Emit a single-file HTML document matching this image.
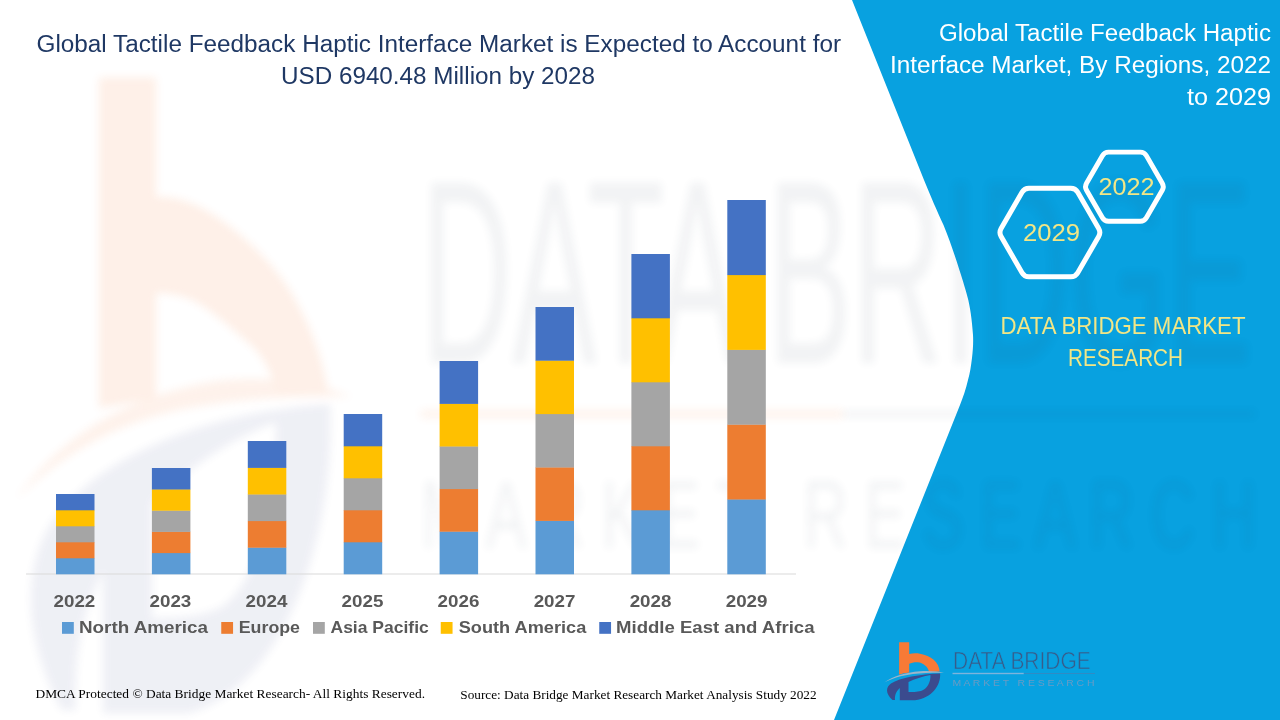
<!DOCTYPE html>
<html><head><meta charset="utf-8"><title>Global Tactile Feedback Haptic Interface Market</title>
<style>html,body{margin:0;padding:0;background:#fff;}body{width:1280px;height:720px;overflow:hidden;font-family:"Liberation Sans",sans-serif;}svg{display:block}</style>
</head><body>
<svg width="1280" height="720" viewBox="0 0 1280 720">
<defs>
<filter id="blur6" x="-10%" y="-10%" width="120%" height="120%"><feGaussianBlur stdDeviation="5"/></filter>
<filter id="blur4" x="-5%" y="-20%" width="110%" height="140%"><feGaussianBlur stdDeviation="4"/></filter>
<clipPath id="pc"><path d="M852,0 L924,180 C931,197 937,211 943.5,225 C950,241 955,256 959.4,270 C963,281 966,291 967.5,297 C970,306 972,320 973,335 C973.4,342 973,350 972,358 C971,366 970,373 968,380 C966,389 963,397 960,405 L950,430 L834,720 L1280,720 L1280,0 Z"/></clipPath>
</defs>
<rect width="1280" height="720" fill="#FFFFFF"/>
<path d="M852,0 L924,180 C931,197 937,211 943.5,225 C950,241 955,256 959.4,270 C963,281 966,291 967.5,297 C970,306 972,320 973,335 C973.4,342 973,350 972,358 C971,366 970,373 968,380 C966,389 963,397 960,405 L950,430 L834,720 L1280,720 L1280,0 Z" fill="#08A1E0"/>
<g opacity="0.115" filter="url(#blur4)">
<path d="M99,77.5 L156,77.5 L156,197 C175,196 200,202 233,229 C262,252 283,278 291.5,293 C310,325 322,355 328,392 L277,394 C270,365 258,350 245,340 C225,322 205,306 192,300 C180,295 168,293 156,293 L156,398 L99,408 Z" fill="#F77A36"/>
<g transform="translate(99,77.5) scale(5.64,10.5) translate(-899.1,-642.3)">
<path d="M884.3,682.5 C893,676 905,672.5 920,671.2 C930,670.6 938,671.5 944,672.7 C932,672.6 922,673 913,674 C901,675.5 892,678.5 884.3,682.5 Z" fill="#F77A36" opacity="0.85"/>
</g>
<g transform="translate(99,404) scale(5.64,11.5) translate(-899.1,-673.4)">
<path d="M892.5,700 C885,693 886,687 891,683.5 C900,677.5 920,674 940.1,673.4 C941,685 932,698 915,700.3 L899.8,700.3 L899.8,688 C896.5,691 894.5,695 895,700 Z M908.5,682 C915,679 922,676.5 930.4,675 C931,682 927,689 921,691 C917,692 912,692 908.5,692 Z" fill="#3B4B8E" fill-rule="evenodd" opacity="0.72"/>
</g>
<rect x="421" y="410" width="422" height="8" fill="#F77A36" opacity="0.8"/>
</g>
<g opacity="0.06" filter="url(#blur4)">
<text x="421" y="363" font-family="Liberation Sans" font-size="262" font-weight="normal" fill="#2A3A55" textLength="831" lengthAdjust="spacingAndGlyphs" xml:space="preserve" >DATA BRIDGE</text>
<rect x="843" y="411" width="412" height="6" fill="#2A3A55"/>
<text x="421" y="548" font-family="Liberation Sans" font-size="97" font-weight="normal" fill="#2A3A55" textLength="835" lengthAdjust="spacingAndGlyphs" xml:space="preserve" >M A R K E T   R E S E A R C H</text>
</g>
<rect x="26" y="573.5" width="770" height="1" fill="#D9D9D9"/>
<rect x="56.00" y="558.00" width="38.5" height="16.30" fill="#5B9BD5"/>
<rect x="56.00" y="542.00" width="38.5" height="16.30" fill="#ED7D31"/>
<rect x="56.00" y="526.00" width="38.5" height="16.30" fill="#A5A5A5"/>
<rect x="56.00" y="510.00" width="38.5" height="16.30" fill="#FFC000"/>
<rect x="56.00" y="494.00" width="38.5" height="16.30" fill="#4472C4"/>
<text x="53.50000000000001" y="607.2" font-family="Liberation Sans" font-size="16.7" font-weight="bold" fill="#595959" textLength="41.8" lengthAdjust="spacingAndGlyphs" xml:space="preserve" >2022</text>
<rect x="151.90" y="552.80" width="38.5" height="21.50" fill="#5B9BD5"/>
<rect x="151.90" y="531.60" width="38.5" height="21.50" fill="#ED7D31"/>
<rect x="151.90" y="510.40" width="38.5" height="21.50" fill="#A5A5A5"/>
<rect x="151.90" y="489.20" width="38.5" height="21.50" fill="#FFC000"/>
<rect x="151.90" y="468.00" width="38.5" height="21.50" fill="#4472C4"/>
<text x="149.53" y="607.2" font-family="Liberation Sans" font-size="16.7" font-weight="bold" fill="#595959" textLength="41.8" lengthAdjust="spacingAndGlyphs" xml:space="preserve" >2023</text>
<rect x="247.80" y="547.40" width="38.5" height="26.90" fill="#5B9BD5"/>
<rect x="247.80" y="520.80" width="38.5" height="26.90" fill="#ED7D31"/>
<rect x="247.80" y="494.20" width="38.5" height="26.90" fill="#A5A5A5"/>
<rect x="247.80" y="467.60" width="38.5" height="26.90" fill="#FFC000"/>
<rect x="247.80" y="441.00" width="38.5" height="26.90" fill="#4472C4"/>
<text x="245.56000000000003" y="607.2" font-family="Liberation Sans" font-size="16.7" font-weight="bold" fill="#595959" textLength="41.8" lengthAdjust="spacingAndGlyphs" xml:space="preserve" >2024</text>
<rect x="343.70" y="542.00" width="38.5" height="32.30" fill="#5B9BD5"/>
<rect x="343.70" y="510.00" width="38.5" height="32.30" fill="#ED7D31"/>
<rect x="343.70" y="478.00" width="38.5" height="32.30" fill="#A5A5A5"/>
<rect x="343.70" y="446.00" width="38.5" height="32.30" fill="#FFC000"/>
<rect x="343.70" y="414.00" width="38.5" height="32.30" fill="#4472C4"/>
<text x="341.59000000000003" y="607.2" font-family="Liberation Sans" font-size="16.7" font-weight="bold" fill="#595959" textLength="41.8" lengthAdjust="spacingAndGlyphs" xml:space="preserve" >2025</text>
<rect x="439.60" y="531.40" width="38.5" height="42.90" fill="#5B9BD5"/>
<rect x="439.60" y="488.80" width="38.5" height="42.90" fill="#ED7D31"/>
<rect x="439.60" y="446.20" width="38.5" height="42.90" fill="#A5A5A5"/>
<rect x="439.60" y="403.60" width="38.5" height="42.90" fill="#FFC000"/>
<rect x="439.60" y="361.00" width="38.5" height="42.90" fill="#4472C4"/>
<text x="437.62" y="607.2" font-family="Liberation Sans" font-size="16.7" font-weight="bold" fill="#595959" textLength="41.8" lengthAdjust="spacingAndGlyphs" xml:space="preserve" >2026</text>
<rect x="535.50" y="520.60" width="38.5" height="53.70" fill="#5B9BD5"/>
<rect x="535.50" y="467.20" width="38.5" height="53.70" fill="#ED7D31"/>
<rect x="535.50" y="413.80" width="38.5" height="53.70" fill="#A5A5A5"/>
<rect x="535.50" y="360.40" width="38.5" height="53.70" fill="#FFC000"/>
<rect x="535.50" y="307.00" width="38.5" height="53.70" fill="#4472C4"/>
<text x="533.65" y="607.2" font-family="Liberation Sans" font-size="16.7" font-weight="bold" fill="#595959" textLength="41.8" lengthAdjust="spacingAndGlyphs" xml:space="preserve" >2027</text>
<rect x="631.40" y="510.00" width="38.5" height="64.30" fill="#5B9BD5"/>
<rect x="631.40" y="446.00" width="38.5" height="64.30" fill="#ED7D31"/>
<rect x="631.40" y="382.00" width="38.5" height="64.30" fill="#A5A5A5"/>
<rect x="631.40" y="318.00" width="38.5" height="64.30" fill="#FFC000"/>
<rect x="631.40" y="254.00" width="38.5" height="64.30" fill="#4472C4"/>
<text x="629.6800000000001" y="607.2" font-family="Liberation Sans" font-size="16.7" font-weight="bold" fill="#595959" textLength="41.8" lengthAdjust="spacingAndGlyphs" xml:space="preserve" >2028</text>
<rect x="727.30" y="499.20" width="38.5" height="75.10" fill="#5B9BD5"/>
<rect x="727.30" y="424.40" width="38.5" height="75.10" fill="#ED7D31"/>
<rect x="727.30" y="349.60" width="38.5" height="75.10" fill="#A5A5A5"/>
<rect x="727.30" y="274.80" width="38.5" height="75.10" fill="#FFC000"/>
<rect x="727.30" y="200.00" width="38.5" height="75.10" fill="#4472C4"/>
<text x="725.71" y="607.2" font-family="Liberation Sans" font-size="16.7" font-weight="bold" fill="#595959" textLength="41.8" lengthAdjust="spacingAndGlyphs" xml:space="preserve" >2029</text>
<rect x="62" y="622" width="11.8" height="11.8" fill="#5B9BD5"/>
<text x="79" y="633" font-family="Liberation Sans" font-size="16.9" font-weight="bold" fill="#595959" textLength="129" lengthAdjust="spacingAndGlyphs" xml:space="preserve" >North America</text>
<rect x="221.25" y="622" width="11.8" height="11.8" fill="#ED7D31"/>
<text x="238.75" y="633" font-family="Liberation Sans" font-size="16.9" font-weight="bold" fill="#595959" textLength="61.25" lengthAdjust="spacingAndGlyphs" xml:space="preserve" >Europe</text>
<rect x="313" y="622" width="11.8" height="11.8" fill="#A5A5A5"/>
<text x="330.5" y="633" font-family="Liberation Sans" font-size="16.9" font-weight="bold" fill="#595959" textLength="98.25" lengthAdjust="spacingAndGlyphs" xml:space="preserve" >Asia Pacific</text>
<rect x="440.75" y="622" width="11.8" height="11.8" fill="#FFC000"/>
<text x="458.75" y="633" font-family="Liberation Sans" font-size="16.9" font-weight="bold" fill="#595959" textLength="127.5" lengthAdjust="spacingAndGlyphs" xml:space="preserve" >South America</text>
<rect x="599.25" y="622" width="11.8" height="11.8" fill="#4472C4"/>
<text x="616" y="633" font-family="Liberation Sans" font-size="16.9" font-weight="bold" fill="#595959" textLength="198.5" lengthAdjust="spacingAndGlyphs" xml:space="preserve" >Middle East and Africa</text>
<text x="36.5" y="52" font-family="Liberation Sans" font-size="23.5" font-weight="normal" fill="#1F3864" textLength="804.5" lengthAdjust="spacingAndGlyphs" xml:space="preserve" >Global Tactile Feedback Haptic Interface Market is Expected to Account for</text>
<text x="281" y="83.5" font-family="Liberation Sans" font-size="23.5" font-weight="normal" fill="#1F3864" textLength="314" lengthAdjust="spacingAndGlyphs" xml:space="preserve" >USD 6940.48 Million by 2028</text>
<text x="939" y="41" font-family="Liberation Sans" font-size="23.5" font-weight="normal" fill="#FFFFFF" textLength="332" lengthAdjust="spacingAndGlyphs" xml:space="preserve" >Global Tactile Feedback Haptic</text>
<text x="890" y="73" font-family="Liberation Sans" font-size="23.5" font-weight="normal" fill="#FFFFFF" textLength="381" lengthAdjust="spacingAndGlyphs" xml:space="preserve" >Interface Market, By Regions, 2022</text>
<text x="1187" y="105" font-family="Liberation Sans" font-size="23.5" font-weight="normal" fill="#FFFFFF" textLength="84" lengthAdjust="spacingAndGlyphs" xml:space="preserve" >to 2029</text>
<path d="M1098.69,228.50 Q1101.00,232.50 1098.69,236.50 L1077.76,272.75 Q1075.45,276.75 1070.83,276.75 L1028.97,276.75 Q1024.35,276.75 1022.04,272.75 L1001.11,236.50 Q998.80,232.50 1001.11,228.50 L1022.04,192.25 Q1024.35,188.25 1028.97,188.25 L1070.83,188.25 Q1075.45,188.25 1077.76,192.25 Z" fill="none" stroke="#FFFFFF" stroke-width="5.0" stroke-linejoin="round"/>
<path d="M1162.28,183.20 Q1164.30,186.70 1162.28,190.20 L1146.37,217.75 Q1144.35,221.25 1140.31,221.25 L1108.49,221.25 Q1104.45,221.25 1102.43,217.75 L1086.52,190.20 Q1084.50,186.70 1086.52,183.20 L1102.43,155.65 Q1104.45,152.15 1108.49,152.15 L1140.31,152.15 Q1144.35,152.15 1146.37,155.65 Z" fill="none" stroke="#FFFFFF" stroke-width="4.9" stroke-linejoin="round"/>
<text x="1023" y="241" font-family="Liberation Sans" font-size="24" font-weight="normal" fill="#F2E686" textLength="57" lengthAdjust="spacingAndGlyphs" xml:space="preserve" >2029</text>
<text x="1098.5" y="195" font-family="Liberation Sans" font-size="24" font-weight="normal" fill="#F2E686" textLength="56.0" lengthAdjust="spacingAndGlyphs" xml:space="preserve" >2022</text>
<text x="1000.5" y="333.5" font-family="Liberation Sans" font-size="23.4" font-weight="normal" fill="#F2E686" textLength="245.0" lengthAdjust="spacingAndGlyphs" xml:space="preserve" >DATA BRIDGE MARKET</text>
<text x="1068" y="365.6" font-family="Liberation Sans" font-size="23.4" font-weight="normal" fill="#F2E686" textLength="115" lengthAdjust="spacingAndGlyphs" xml:space="preserve" >RESEARCH</text>
<text x="35.5" y="698" font-family="Liberation Serif" font-size="12.5" font-weight="normal" fill="#000000" textLength="389.5" lengthAdjust="spacingAndGlyphs" xml:space="preserve" >DMCA Protected © Data Bridge Market Research- All Rights Reserved.</text>
<text x="460.3" y="699" font-family="Liberation Serif" font-size="12.5" font-weight="normal" fill="#000000" textLength="356.3" lengthAdjust="spacingAndGlyphs" xml:space="preserve" >Source: Data Bridge Market Research Market Analysis Study 2022</text>
<g>
<path d="M899.1,642.3 L909.2,642.3 L909.2,654 C913,653 917,653.2 920,653.7 C931,655.5 939,662 939.7,671.5 L929,672 C928.5,667 923,662.5 917.8,662.2 C914.5,662 911.5,662.7 909.2,663.7 L909.2,672.5 C905,673 902,673.6 899.1,674.5 Z" fill="#F77A36"/>
<path d="M884.3,682.5 C893,676 905,672.5 920,671.2 C930,670.6 938,671.5 944,672.7 C932,672.6 922,673 913,674 C901,675.5 892,678.5 884.3,682.5 Z" fill="#9DB5C9"/>
<path d="M892.5,700 C885,693 886,687 891,683.5 C900,677.5 920,674 940.1,673.4 C941,685 932,698 915,700.3 L899.8,700.3 L899.8,688 C896.5,691 894.5,695 895,700 Z M908.5,682 C915,679 922,676.5 930.4,675 C931,682 927,689 921,691 C917,692 912,692 908.5,692 Z" fill="#3B4B8E" fill-rule="evenodd"/>
<text x="953.1" y="669.4" font-family="Liberation Sans" font-size="24.8" font-weight="normal" fill="#385C8A" textLength="137.5" lengthAdjust="spacingAndGlyphs" xml:space="preserve" stroke="#08A1E0" stroke-width="0.6">DATA BRIDGE</text>
<rect x="952.5" y="672.8" width="71.3" height="1.4" fill="#7DB4DC"/><rect x="1023.8" y="673.1" width="71.2" height="0.8" fill="#3C86BD"/>
<text x="952.5" y="686.2" font-family="Liberation Sans" font-size="8.8" font-weight="normal" fill="#6A9BC4" textLength="142.0" lengthAdjust="spacingAndGlyphs" xml:space="preserve" >M A R K E T   R E S E A R C H</text>
</g>
</svg>
</body></html>
